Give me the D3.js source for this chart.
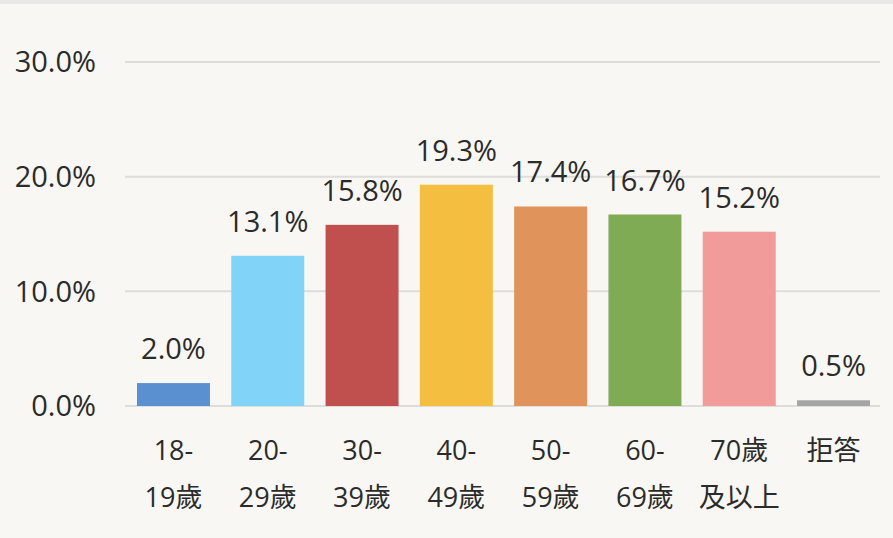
<!DOCTYPE html>
<html>
<head>
<meta charset="utf-8">
<script src="https://cdn.jsdelivr.net/npm/d3@7"></script>
<style>
  html, body { margin: 0; padding: 0; background: #f8f7f3; }
  svg { display: block; }
  text { font-family: "Open Sans", "Noto Sans CJK TC", sans-serif; fill: #2b2b2b; }
</style>
</head>
<body>
<svg width="893" height="538"></svg>
<script>
var categories = ["18-19歲", "20-29歲", "30-39歲", "40-49歲", "50-59歲", "60-69歲", "70歲及以上", "拒答"];
var labelLines = [["18-", "19歲"], ["20-", "29歲"], ["30-", "39歲"], ["40-", "49歲"], ["50-", "59歲"], ["60-", "69歲"], ["70歲", "及以上"], ["拒答"]];
var values = [2.0, 13.1, 15.8, 19.3, 17.4, 16.7, 15.2, 0.5];
var yTicks = [0, 10, 20, 30];
var colors = ["#5b90d0", "#81d3f8", "#c0504d", "#f4bf40", "#e0935a", "#7eab53", "#f19b9b", "#a5a5a5"];

var svg = d3.select("svg");

svg.append("rect")
  .attr("x", 0).attr("y", 0)
  .attr("width", 893).attr("height", 4)
  .attr("fill", "#e8e8e8");

var x = d3.scaleBand()
  .domain(categories)
  .range([125, 882])
  .paddingInner(0.226)
  .paddingOuter(0.127);

var y = d3.scaleLinear()
  .domain([0, 30])
  .range([406, 62]);

var z = d3.scaleOrdinal().domain(categories).range(colors);

// gridlines
svg.append("g")
  .selectAll("line")
  .data(yTicks)
  .enter().append("line")
  .attr("x1", 125)
  .attr("x2", 880)
  .attr("y1", function(d) { return y(d); })
  .attr("y2", function(d) { return y(d); })
  .attr("stroke", "#dddddb")
  .attr("stroke-width", 2);

// y tick labels
svg.append("g")
  .selectAll("text")
  .data(yTicks)
  .enter().append("text")
  .attr("x", 96)
  .attr("y", function(d) { return y(d); })
  .attr("dy", "0.36em")
  .attr("text-anchor", "end")
  .style("font-size", "29px")
  .text(function(d) { return d3.format(".1f")(d) + "%"; });

// bars
svg.append("g")
  .selectAll("rect")
  .data(values)
  .enter().append("rect")
  .attr("x", function(d, i) { return x(categories[i]); })
  .attr("y", function(d) { return y(d); })
  .attr("width", x.bandwidth())
  .attr("height", function(d) { return y(0) - y(d); })
  .attr("fill", function(d, i) { return z(categories[i]); });

// value labels
svg.append("g")
  .selectAll("text")
  .data(values)
  .enter().append("text")
  .attr("x", function(d, i) { return x(categories[i]) + x.bandwidth() / 2; })
  .attr("y", function(d) { return y(d) - 24; })
  .attr("text-anchor", "middle")
  .style("font-size", "29px")
  .text(function(d) { return d3.format(".1f")(d) + "%"; });

// category labels
var cat = svg.append("g")
  .selectAll("text")
  .data(categories)
  .enter().append("text")
  .attr("x", function(d) { return x(d) + x.bandwidth() / 2; })
  .attr("y", 460)
  .attr("text-anchor", "middle")
  .style("font-size", "27px");

cat.selectAll("tspan")
  .data(function(d, i) { return labelLines[i]; })
  .enter().append("tspan")
  .attr("x", function() { return d3.select(this.parentNode).attr("x"); })
  .attr("dy", function(d, j) { return j === 0 ? 0 : 47; })
  .text(function(d) { return d; });
</script>
</body>
</html>
